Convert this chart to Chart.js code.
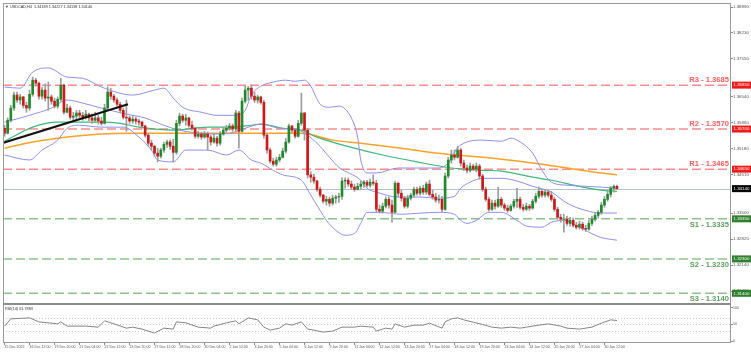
<!DOCTYPE html>
<html>
<head>
<meta charset="utf-8">
<script src="https://cdn.jsdelivr.net/npm/chart.js@4.4.0/dist/chart.umd.min.js"></script>
<style>
html, body { margin: 0; padding: 0; background: #fff; }
</style>
</head>
<body>
<canvas id="myChart" width="751" height="354"></canvas>
<script>
// x axis labels, one every 8 H4 bars
const tickLabels = ["15 Dec 2022", "16 Dec 12:00", "19 Dec 20:00", "21 Dec 04:00", "22 Dec 12:00", "23 Dec 20:00", "27 Dec 12:00", "28 Dec 20:00", "30 Dec 04:00", "2 Jan 12:00", "3 Jan 20:00", "5 Jan 04:00", "6 Jan 12:00", "9 Jan 20:00", "11 Jan 04:00", "12 Jan 12:00", "13 Jan 20:00", "17 Jan 04:00", "18 Jan 12:00", "19 Jan 20:00", "23 Jan 04:00", "24 Jan 12:00", "25 Jan 20:00", "27 Jan 04:00", "30 Jan 12:00"];

// USDCAD H4 candles (open of each bar = previous close)
const firstOpen = 1.3572;
const closes = [1.3559, 1.3593, 1.3625, 1.3659, 1.3646, 1.3654, 1.3632, 1.3625, 1.3661, 1.3698,
	1.3690, 1.3656, 1.3672, 1.3651, 1.3654, 1.3643, 1.3630, 1.3648, 1.3685, 1.3614,
	1.3625, 1.3601, 1.3604, 1.3612, 1.3606, 1.3601, 1.3609, 1.3599, 1.3593, 1.3599,
	1.3591, 1.3585, 1.3625, 1.3667, 1.3656, 1.3646, 1.3635, 1.3619, 1.3601, 1.3599,
	1.3591, 1.3596, 1.3591, 1.3588, 1.3578, 1.3554, 1.3533, 1.3525, 1.3507, 1.3499,
	1.3515, 1.3530, 1.3536, 1.3525, 1.3509, 1.3585, 1.3604, 1.3593, 1.3599, 1.3580,
	1.3572, 1.3551, 1.3557, 1.3549, 1.3557, 1.3549, 1.3536, 1.3546, 1.3533, 1.3557,
	1.3567, 1.3572, 1.3578, 1.3570, 1.3612, 1.3564, 1.3643, 1.3672, 1.3677, 1.3656,
	1.3646, 1.3654, 1.3640, 1.3554, 1.3515, 1.3486, 1.3478, 1.3489, 1.3496, 1.3512,
	1.3536, 1.3578, 1.3567, 1.3551, 1.3585, 1.3612, 1.3567, 1.3450, 1.3444, 1.3434,
	1.3412, 1.3397, 1.3381, 1.3386, 1.3376, 1.3389, 1.3392, 1.3394, 1.3434, 1.3436,
	1.3426, 1.3418, 1.3412, 1.3420, 1.3426, 1.3431, 1.3423, 1.3431, 1.3428, 1.3360,
	1.3355, 1.3368, 1.3386, 1.3371, 1.3352, 1.3428, 1.3402, 1.3389, 1.3368, 1.3389,
	1.3397, 1.3412, 1.3402, 1.3415, 1.3405, 1.3426, 1.3399, 1.3392, 1.3384, 1.3386,
	1.3360, 1.3447, 1.3489, 1.3502, 1.3496, 1.3515, 1.3481, 1.3468, 1.3462, 1.3473,
	1.3465, 1.3473, 1.3447, 1.3412, 1.3386, 1.3360, 1.3376, 1.3368, 1.3386, 1.3371,
	1.3363, 1.3357, 1.3368, 1.3381, 1.3386, 1.3365, 1.3360, 1.3368, 1.3363, 1.3381,
	1.3394, 1.3407, 1.3397, 1.3405, 1.3397, 1.3386, 1.3360, 1.3339, 1.3334, 1.3334,
	1.3323, 1.3331, 1.3318, 1.3313, 1.3321, 1.3310, 1.3308, 1.3323, 1.3334, 1.3344,
	1.3352, 1.3371, 1.3386, 1.3399, 1.3415, 1.3420, 1.3414];
const highs = [1.3580, 1.3599, 1.3632, 1.3667, 1.3667, 1.3661, 1.3656, 1.3640, 1.3672, 1.3706,
	1.3703, 1.3693, 1.3680, 1.3688, 1.3693, 1.3659, 1.3651, 1.3654, 1.3703, 1.3688,
	1.3635, 1.3630, 1.3614, 1.3619, 1.3619, 1.3614, 1.3619, 1.3612, 1.3609, 1.3614,
	1.3606, 1.3601, 1.3635, 1.3680, 1.3677, 1.3661, 1.3651, 1.3640, 1.3625, 1.3646,
	1.3604, 1.3604, 1.3601, 1.3596, 1.3591, 1.3580, 1.3559, 1.3541, 1.3528, 1.3520,
	1.3520, 1.3536, 1.3541, 1.3541, 1.3543, 1.3593, 1.3612, 1.3609, 1.3609, 1.3601,
	1.3591, 1.3575, 1.3564, 1.3562, 1.3564, 1.3562, 1.3554, 1.3557, 1.3551, 1.3564,
	1.3575, 1.3580, 1.3585, 1.3583, 1.3619, 1.3617, 1.3651, 1.3682, 1.3682, 1.3685,
	1.3667, 1.3659, 1.3656, 1.3646, 1.3559, 1.3520, 1.3494, 1.3496, 1.3504, 1.3520,
	1.3546, 1.3583, 1.3580, 1.3572, 1.3593, 1.3664, 1.3614, 1.3572, 1.3458, 1.3452,
	1.3436, 1.3418, 1.3399, 1.3394, 1.3392, 1.3397, 1.3397, 1.3402, 1.3442, 1.3442,
	1.3442, 1.3434, 1.3426, 1.3428, 1.3434, 1.3436, 1.3436, 1.3439, 1.3450, 1.3436,
	1.3371, 1.3376, 1.3392, 1.3392, 1.3384, 1.3434, 1.3431, 1.3410, 1.3394, 1.3397,
	1.3402, 1.3418, 1.3418, 1.3420, 1.3423, 1.3431, 1.3436, 1.3410, 1.3402, 1.3397,
	1.3394, 1.3455, 1.3496, 1.3515, 1.3515, 1.3525, 1.3520, 1.3489, 1.3476, 1.3481,
	1.3478, 1.3481, 1.3478, 1.3452, 1.3418, 1.3392, 1.3384, 1.3384, 1.3418, 1.3392,
	1.3376, 1.3371, 1.3373, 1.3386, 1.3415, 1.3392, 1.3373, 1.3376, 1.3373, 1.3386,
	1.3402, 1.3418, 1.3412, 1.3410, 1.3410, 1.3407, 1.3392, 1.3365, 1.3347, 1.3347,
	1.3342, 1.3339, 1.3337, 1.3326, 1.3329, 1.3326, 1.3318, 1.3331, 1.3342, 1.3350,
	1.3357, 1.3378, 1.3394, 1.3407, 1.3420, 1.3423, 1.3423];
const lows = [1.3551, 1.3557, 1.3588, 1.3619, 1.3640, 1.3635, 1.3625, 1.3614, 1.3619, 1.3656,
	1.3682, 1.3648, 1.3648, 1.3643, 1.3619, 1.3635, 1.3625, 1.3625, 1.3643, 1.3609,
	1.3612, 1.3596, 1.3593, 1.3596, 1.3599, 1.3593, 1.3596, 1.3591, 1.3585, 1.3588,
	1.3583, 1.3580, 1.3583, 1.3619, 1.3648, 1.3640, 1.3630, 1.3612, 1.3596, 1.3564,
	1.3585, 1.3585, 1.3583, 1.3580, 1.3572, 1.3549, 1.3525, 1.3515, 1.3499, 1.3484,
	1.3494, 1.3509, 1.3522, 1.3517, 1.3484, 1.3504, 1.3578, 1.3588, 1.3580, 1.3575,
	1.3567, 1.3546, 1.3546, 1.3543, 1.3546, 1.3515, 1.3528, 1.3533, 1.3525, 1.3528,
	1.3554, 1.3562, 1.3567, 1.3564, 1.3562, 1.3520, 1.3562, 1.3638, 1.3646, 1.3648,
	1.3640, 1.3638, 1.3635, 1.3546, 1.3507, 1.3481, 1.3473, 1.3473, 1.3484, 1.3494,
	1.3507, 1.3533, 1.3559, 1.3546, 1.3549, 1.3580, 1.3541, 1.3442, 1.3431, 1.3428,
	1.3407, 1.3392, 1.3376, 1.3371, 1.3368, 1.3371, 1.3376, 1.3378, 1.3386, 1.3415,
	1.3420, 1.3412, 1.3407, 1.3410, 1.3412, 1.3418, 1.3418, 1.3418, 1.3423, 1.3352,
	1.3350, 1.3350, 1.3363, 1.3363, 1.3326, 1.3352, 1.3392, 1.3381, 1.3363, 1.3363,
	1.3384, 1.3392, 1.3397, 1.3397, 1.3399, 1.3399, 1.3394, 1.3386, 1.3378, 1.3376,
	1.3352, 1.3357, 1.3442, 1.3481, 1.3489, 1.3494, 1.3473, 1.3461, 1.3455, 1.3458,
	1.3461, 1.3458, 1.3439, 1.3407, 1.3381, 1.3355, 1.3357, 1.3360, 1.3365, 1.3365,
	1.3357, 1.3352, 1.3355, 1.3363, 1.3365, 1.3360, 1.3355, 1.3357, 1.3357, 1.3360,
	1.3376, 1.3389, 1.3392, 1.3392, 1.3392, 1.3381, 1.3355, 1.3334, 1.3326, 1.3300,
	1.3318, 1.3316, 1.3313, 1.3308, 1.3308, 1.3305, 1.3302, 1.3305, 1.3318, 1.3329,
	1.3337, 1.3347, 1.3365, 1.3381, 1.3392, 1.3405, 1.3412];

// indicator lines as [bar, price]
const upperBand = [[0, 1.3680], [5, 1.3677], [9, 1.3719], [14, 1.3730], [20, 1.3706], [25, 1.3703], [31, 1.3680], [41, 1.3659], [48, 1.3672], [51, 1.3677], [54, 1.3651], [57, 1.3627], [63, 1.3614], [68, 1.3606], [74, 1.3606], [77, 1.3619], [79, 1.3659], [82, 1.3682], [86, 1.3693], [90, 1.3698], [93, 1.3695], [96, 1.3698], [98, 1.3682], [101, 1.3635], [104, 1.3627], [107, 1.3630], [111, 1.3599], [113, 1.3549], [114, 1.3489], [116, 1.3455], [119, 1.3455], [126, 1.3468], [130, 1.3468], [139, 1.3468], [142, 1.3481], [144, 1.3509], [145, 1.3522], [153, 1.3541], [159, 1.3538], [162, 1.3546], [164, 1.3541], [169, 1.3507], [172, 1.3462], [175, 1.3431], [180, 1.3423], [191, 1.3418], [196, 1.3415]];
const middleBand = [[0, 1.3588], [8, 1.3606], [15, 1.3625], [20, 1.3646], [25, 1.3638], [31, 1.3625], [39, 1.3609], [45, 1.3599], [50, 1.3583], [56, 1.3567], [63, 1.3559], [67, 1.3557], [72, 1.3559], [77, 1.3572], [82, 1.3583], [88, 1.3572], [94, 1.3567], [100, 1.3533], [104, 1.3496], [107, 1.3470], [114, 1.3436], [116, 1.3415], [119, 1.3405], [126, 1.3392], [133, 1.3392], [139, 1.3389], [144, 1.3394], [146, 1.3415], [149, 1.3431], [153, 1.3441], [159, 1.3441], [164, 1.3434], [169, 1.3420], [175, 1.3405], [180, 1.3376], [186, 1.3357], [191, 1.3350], [196, 1.3350]];
const lowerBand = [[0, 1.3502], [8, 1.3489], [12, 1.3515], [17, 1.3541], [20, 1.3572], [24, 1.3580], [31, 1.3575], [38, 1.3575], [43, 1.3549], [47, 1.3515], [49, 1.3489], [54, 1.3484], [58, 1.3515], [65, 1.3515], [71, 1.3502], [75, 1.3515], [79, 1.3489], [82, 1.3481], [86, 1.3462], [89, 1.3450], [95, 1.3436], [98, 1.3397], [101, 1.3357], [103, 1.3331], [106, 1.3305], [109, 1.3292], [112, 1.3297], [114, 1.3323], [116, 1.3352], [120, 1.3352], [127, 1.3347], [133, 1.3350], [139, 1.3352], [144, 1.3347], [146, 1.3331], [148, 1.3323], [151, 1.3331], [155, 1.3352], [159, 1.3352], [164, 1.3331], [167, 1.3316], [172, 1.3313], [175, 1.3326], [179, 1.3331], [183, 1.3318], [187, 1.3300], [191, 1.3286], [196, 1.3279]];
const greenMa = [[0, 1.3538], [9, 1.3575], [17, 1.3588], [31, 1.3588], [37, 1.3585], [43, 1.3575], [54, 1.3567], [65, 1.3575], [73, 1.3575], [79, 1.3580], [82, 1.3583], [89, 1.3572], [95, 1.3567], [100, 1.3549], [111, 1.3522], [121, 1.3502], [132, 1.3484], [143, 1.3468], [153, 1.3462], [159, 1.3460], [169, 1.3444], [175, 1.3436], [185, 1.3418], [191, 1.3410], [196, 1.3407]];
const orangeMa = [[0, 1.3520], [9, 1.3536], [20, 1.3549], [31, 1.3557], [41, 1.3559], [52, 1.3559], [63, 1.3559], [79, 1.3559], [95, 1.3559], [105, 1.3541], [114, 1.3533], [127, 1.3520], [138, 1.3507], [145, 1.3502], [153, 1.3496], [159, 1.3491], [169, 1.3481], [180, 1.3468], [191, 1.3455], [196, 1.3450]];
const trendLine = [[-0.8, 1.3533], [39.5, 1.3635]];

const rsiPoints = [[0, 45], [2, 67], [8, 70], [11, 58], [17, 52], [18, 58], [20, 45], [26, 45], [30, 42], [32, 61], [35, 52], [39, 39], [41, 42], [44, 36], [48, 24], [51, 39], [54, 36], [55, 58], [58, 55], [62, 42], [66, 39], [67, 45], [71, 55], [74, 61], [75, 52], [78, 70], [81, 64], [83, 42], [85, 33], [88, 39], [90, 52], [92, 48], [95, 58], [97, 36], [99, 33], [102, 27], [105, 30], [108, 42], [112, 42], [114, 45], [118, 42], [119, 30], [122, 39], [124, 36], [125, 52], [128, 42], [131, 48], [134, 48], [136, 54], [140, 39], [141, 58], [143, 67], [145, 70], [147, 64], [150, 57], [153, 50], [156, 42], [159, 39], [162, 42], [165, 39], [167, 42], [171, 48], [174, 52], [178, 45], [180, 39], [184, 36], [188, 42], [191, 54], [194, 64], [196, 62]];

// support / resistance
const levelNames = ["R3", "R2", "R1", "S1", "S2", "S3"];
const levelValues = [1.3685, 1.3570, 1.3465, 1.3335, 1.3230, 1.3140];

const priceTicks = [1.3889, 1.3857, 1.3823, 1.3789, 1.3755, 1.3721, 1.3654, 1.362, 1.3586, 1.3552, 1.3518, 1.3485, 1.3451, 1.3384, 1.335, 1.3316, 1.3282, 1.3248, 1.3214, 1.318, 1.3146, 1.3114];
const rsiTicks = [100, 70, 50, 30, 0];
const rsiLevels = [70, 50, 30];

const titleText = "USDCAD,H4  1.34189 1.34227 1.34138 1.34140";
const rsiTitle = "RSI(14) 61.7883";

window.addEventListener(
	"load",
	function () {
		const opens = closes.map((c, i) => (i === 0 ? firstOpen : closes[i - 1]));
		const up = closes.map((c, i) => c >= opens[i]);
		const pts = (arr) => arr.map((p) => ({ x: p[0], y: p[1] }));
		const font = '"Liberation Sans", Arial, sans-serif';

		const levelSets = levelValues.map((v, i) => ({
			type: "line",
			data: [{ x: -0.5, y: v }, { x: 232.5, y: v }],
			borderColor: i < 3 ? "rgba(255, 120, 120, 0.85)" : "rgba(120, 185, 120, 0.85)",
			borderWidth: 1.5,
			borderDash: [9, 4],
			pointRadius: 0,
			order: 5,
		}));

		const lineSet = (arr, color, width, axis) => ({
			type: "line",
			data: pts(arr),
			borderColor: color,
			borderWidth: width,
			pointRadius: 0,
			cubicInterpolationMode: "monotone",
			yAxisID: axis || "y",
			order: 3,
		});

		const data = {
			datasets: [
				...levelSets,
				lineSet(upperBand, "#8e8ef2", 1),
				lineSet(middleBand, "#8e8ef2", 1),
				lineSet(lowerBand, "#8e8ef2", 1),
				lineSet(greenMa, "#3cb878", 1.2),
				lineSet(orangeMa, "#ffa126", 1.5),
				{
					type: "line",
					data: pts(trendLine),
					borderColor: "#111",
					borderWidth: 2,
					pointRadius: 0,
					order: 0,
				},
				{
					type: "bar",
					data: closes.map((c, i) => ({ x: i, y: [lows[i], highs[i]] })),
					backgroundColor: "#9c9c9c",
					barThickness: 1,
					grouped: false,
					order: 2,
				},
				{
					type: "bar",
					data: closes.map((c, i) => ({ x: i, y: [opens[i], c] })),
					backgroundColor: up.map((u) => (u ? "#1f8a2a" : "#d01818")),
					borderWidth: 0,
					barThickness: 2,
					grouped: false,
					order: 1,
				},
				{
					type: "line",
					data: pts(rsiPoints),
					borderColor: "#858585",
					borderWidth: 1,
					pointRadius: 0,
					yAxisID: "yRsi",
					order: 3,
				},
			],
		};

		const overlay = {
			id: "overlay",
			beforeDatasetsDraw(chart) {
				const { ctx, chartArea: a, scales } = chart;
				ctx.save();
				// last price line
				const py = Math.round(scales.y.getPixelForValue(closes[closes.length - 1])) + 0.5;
				ctx.strokeStyle = "#b6bfcd";
				ctx.lineWidth = 1;
				ctx.beginPath();
				ctx.moveTo(a.left, py);
				ctx.lineTo(a.right, py);
				ctx.stroke();
				// rsi levels
				ctx.strokeStyle = "#c8c8c8";
				ctx.setLineDash([1, 2]);
				rsiLevels.forEach((v) => {
					const ry = Math.round(scales.yRsi.getPixelForValue(v)) + 0.5;
					ctx.beginPath();
					ctx.moveTo(a.left, ry);
					ctx.lineTo(a.right, ry);
					ctx.stroke();
				});
				ctx.restore();
			},
			afterDraw(chart) {
				const { ctx, chartArea: a, scales } = chart;
				const y = scales.y;
				ctx.save();
				// frame and pane divider
				ctx.strokeStyle = "#9a9a9a";
				ctx.lineWidth = 1;
				ctx.strokeRect(a.left + 0.5, a.top + 0.5, a.right - a.left - 1, a.bottom - a.top - 1);
				ctx.fillStyle = "#8c8c8c";
				ctx.fillRect(a.left, y.bottom - 1, a.right - a.left, 2);

				// level texts
				ctx.font = "bold 7.6px " + font;
				ctx.textAlign = "right";
				levelValues.forEach((v, i) => {
					const ly = y.getPixelForValue(v);
					const txt = levelNames[i] + " - " + v.toFixed(4);
					if (i < 3) {
						ctx.fillStyle = "#ff5d5d";
						ctx.textBaseline = "bottom";
						ctx.fillText(txt, a.right - 2, ly - 1);
					} else {
						ctx.fillStyle = "#5e9e5e";
						ctx.textBaseline = "top";
						ctx.fillText(txt, a.right - 2, ly + 2);
					}
				});

				// value boxes on the price axis
				const boxes = levelValues.map((v, i) => [v, i < 3 ? "#ee1b1b" : "#2f7f2f"]);
				boxes.push([closes[closes.length - 1], "#000"]);
				ctx.font = "4.4px " + font;
				ctx.textAlign = "left";
				ctx.textBaseline = "middle";
				boxes.forEach(([v, col]) => {
					const by = y.getPixelForValue(v);
					ctx.fillStyle = col;
					ctx.fillRect(a.right + 1, by - 3.5, 19, 7);
					ctx.fillStyle = "#fff";
					ctx.fillText(v.toFixed(5), a.right + 2.5, by);
				});

				// titles
				ctx.fillStyle = "#333";
				ctx.font = "3.8px " + font;
				ctx.textBaseline = "middle";
				ctx.fillText("\u25BC", a.left + 2, a.top + 3.5);
				ctx.fillText(titleText, a.left + 7, a.top + 3.5);
				ctx.fillText(rsiTitle, a.left + 2, y.bottom + 5);
				ctx.restore();
			},
		};

		const config = {
			data: data,
			options: {
				responsive: false,
				animation: false,
				events: [],
				layout: { padding: { top: 3, left: 3, right: 0, bottom: 0 } },
				plugins: { legend: { display: false }, tooltip: { enabled: false } },
				scales: {
					x: {
						type: "linear",
						offset: false,
						min: -0.5,
						max: 232.5,
						afterBuildTicks: (s) => {
							s.ticks = tickLabels.map((t, k) => ({ value: k * 8 }));
						},
						afterFit: (s) => {
							s.height = 11;
						},
						ticks: {
							autoSkip: false,
							maxRotation: 0,
							align: "start",
							padding: 0,
							color: "#555",
							font: { size: 3.5, family: font },
							callback: (v, i) => tickLabels[i],
						},
						grid: { offset: false, drawOnChartArea: false, tickLength: 2, color: "#888" },
						border: { display: false },
					},
					y: {
						position: "right",
						stack: "panes",
						stackWeight: 301,
						min: 1.3112,
						max: 1.39,
						afterBuildTicks: (s) => {
							s.ticks = priceTicks.map((v) => ({ value: v }));
						},
						afterFit: (s) => {
							s.width = 20;
						},
						ticks: {
							padding: 0,
							color: "#555",
							font: { size: 4.4, family: font },
							callback: (v) => v.toFixed(5),
						},
						grid: { drawOnChartArea: false, tickLength: 2, color: "#888" },
						border: { display: false },
					},
					yRsi: {
						position: "right",
						stack: "panes",
						stackWeight: 39,
						min: -6,
						max: 112,
						afterBuildTicks: (s) => {
							s.ticks = rsiTicks.map((v) => ({ value: v }));
						},
						afterFit: (s) => {
							s.width = 20;
						},
						ticks: {
							padding: 0,
							color: "#555",
							font: { size: 3.5, family: font },
						},
						grid: { drawOnChartArea: false, tickLength: 2, color: "#888" },
						border: { display: false },
					},
				},
			},
			plugins: [overlay],
		};

		//load
		const myChart = new Chart(document.getElementById("myChart"), config);
	},
	false
);
</script>
</body>
</html>
